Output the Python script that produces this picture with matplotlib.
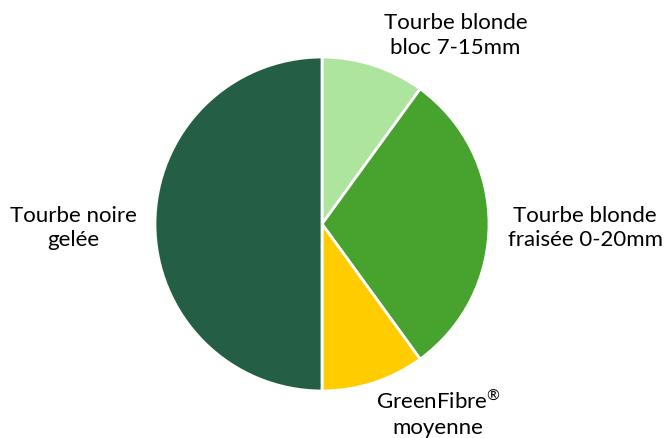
import matplotlib
matplotlib.use("Agg")
import matplotlib.pyplot as plt

categories = ["Tourbe blonde\nbloc 7-15mm", "Tourbe blonde\nfraisée 0-20mm", "GreenFibre$^{\\mathregular{®}}$\nmoyenne", "Tourbe noire\ngelée"]
values = [10, 30, 10, 50]
colors = ["#AEE59E", "#47A32E", "#FFCC00", "#245E44"]
label_pos = [(0.80, 1.13), (1.575, -0.024), (0.695, -1.136), (-1.49, -0.024)]

plt.rcParams['font.family'] = ['Lato', 'DejaVu Sans']
plt.rcParams['mathtext.fontset'] = 'custom'
plt.rcParams['mathtext.rm'] = 'Lato'
fig = plt.figure(figsize=(6.65, 4.38), dpi=100)
W, H = 665, 438
cx, cy, r = 322, 224, 167
ax = fig.add_axes([(cx - r) / W, (H - cy - r) / H, 2 * r / W, 2 * r / H])
wedges, texts = ax.pie(values, labels=categories, colors=colors, startangle=90, counterclock=False,
                       wedgeprops=dict(edgecolor="white", linewidth=2), radius=1,
                       textprops=dict(fontsize=16, color="#000000", ha="center", va="center", linespacing=1.3))
for t, p in zip(texts, label_pos):
    t.set_position(p)
    t.set_ha("center")
    t.set_va("center")
ax.set_xlim(-1, 1)
ax.set_ylim(-1, 1)
ax.set_aspect("equal")
fig.savefig("out.png", dpi=100)
